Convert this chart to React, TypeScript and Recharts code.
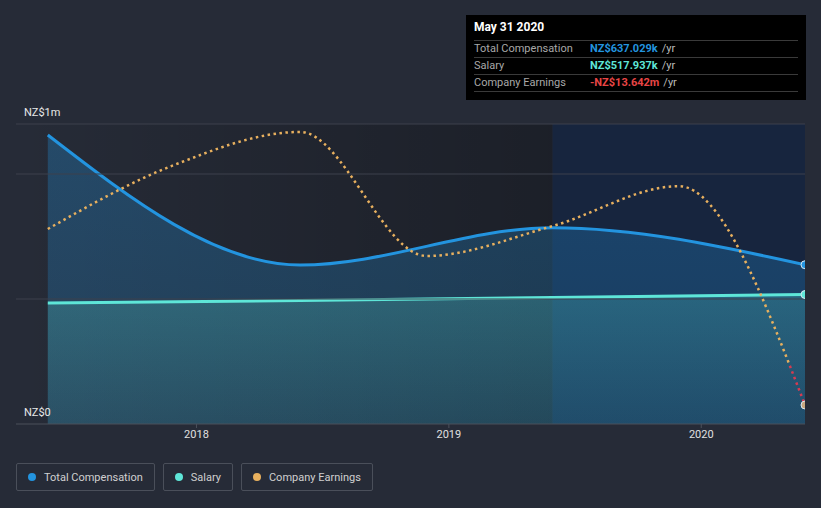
import { ComposedChart, Area, Line, XAxis, YAxis, ReferenceLine, ReferenceArea } from 'recharts';

// dates as decimal years (May 31 / Nov 30)
const dates = [2017.411, 2017.911, 2018.411, 2018.911, 2019.411, 2019.911, 2020.411];
const totalComp = [1156000, null, 636000, null, 785000, null, 637029];
const salary = [484000, null, 494000, null, 506000, null, 517937];
const earnings = [46400000, 68200000, 79500000, 37200000, 47400000, 61000000, -13642000];

const xTicks = [2018, 2019, 2020];
const yTickLabels = [
  { value: 0, label: 'NZ$0' },
  { value: 1200000, label: 'NZ$1m' },
];
const gridValues = [500000, 1000000, 1200000];
const highlightStart = 2019.411;
const xDomain = [2017.285, 2020.411];
const earnDomain = [-20120000, 82200000];

const legendItems = [
  { name: 'Total Compensation', color: '#2394df' },
  { name: 'Salary', color: '#5ee6d8' },
  { name: 'Company Earnings', color: '#e8b05e' },
];

const tooltipRows = [
  { name: 'Total Compensation', value: 'NZ$637.029k', color: '#2394df' },
  { name: 'Salary', value: 'NZ$517.937k', color: '#5ee6d8' },
  { name: 'Company Earnings', value: '-NZ$13.642m', color: '#e84545' },
];

const data = dates.map((d, i) => ({
  date: d,
  total: totalComp[i],
  salary: salary[i],
  earnings: earnings[i],
}));

const last = data.length - 1;
const eMax = Math.max(...earnings);
const eMin = Math.min(...earnings);
const zeroOffset = eMax / (eMax - eMin);

const font = 'Roboto, "Noto Sans", sans-serif';

const endDot = (fill: string) => (props: any) => {
  if (props.index !== last || props.cy == null) return <g key={props.index} />;
  return <circle key={props.index} cx={props.cx} cy={props.cy} r={4} fill={fill} stroke="#d8e6f0" strokeWidth={1} />;
};

const yLabel = (text: string) => (props: any) => {
  const vb = props.viewBox;
  return (
    <text x={vb.x + 8} y={vb.y - 8} fill="#e8e8e8" fontSize={11} fontFamily={font}>
      {text}
    </text>
  );
};

export default function App() {
  return (
    <div style={{ position: 'absolute', left: 0, top: 0, width: 821, height: 508, background: '#262b37', fontFamily: font }}>
      <ComposedChart width={821} height={508} data={data} margin={{ top: 124, right: 16, bottom: 54, left: 16 }}>
        <defs>
          <linearGradient id="fadeBg" x1="0" y1="0" x2="1" y2="0">
            <stop offset="0%" stopColor="#000" stopOpacity={0} />
            <stop offset="100%" stopColor="#000" stopOpacity={0.27} />
          </linearGradient>
          <linearGradient id="totalFill" x1="0" y1="0" x2="0" y2="1">
            <stop offset="0%" stopColor="#2394df" stopOpacity={0.3} />
            <stop offset="100%" stopColor="#2394df" stopOpacity={0.2} />
          </linearGradient>
          <linearGradient id="salaryFill" x1="0" y1="0" x2="0" y2="1">
            <stop offset="0%" stopColor="#5ee6d8" stopOpacity={0.22} />
            <stop offset="100%" stopColor="#5ee6d8" stopOpacity={0.1} />
          </linearGradient>
          <linearGradient id="earnStroke" x1="0" y1="0" x2="0" y2="1">
            <stop offset={zeroOffset} stopColor="#e8b05e" />
            <stop offset={zeroOffset} stopColor="#d63a50" />
          </linearGradient>
        </defs>
        <XAxis
          dataKey="date"
          type="number"
          domain={xDomain}
          allowDataOverflow
          ticks={xTicks}
          tickFormatter={(v: number) => String(v)}
          axisLine={{ stroke: '#4b505b' }}
          tickLine={{ stroke: '#4b505b' }}
          tickSize={4}
          tick={{ fill: '#e0e0e0', fontSize: 11, fontFamily: font }}
        />
        <YAxis yAxisId="comp" hide domain={[0, 1200000]} allowDataOverflow />
        <YAxis yAxisId="earn" hide orientation="right" domain={earnDomain} allowDataOverflow />
        <ReferenceArea yAxisId="comp" x1={xDomain[0]} x2={highlightStart} fill="url(#fadeBg)" fillOpacity={1} zIndex={-100} />
        <ReferenceArea yAxisId="comp" x1={highlightStart} x2={xDomain[1]} fill="#17253e" fillOpacity={1} zIndex={-100} />
        {gridValues.map((v) => (
          <ReferenceLine key={v} yAxisId="comp" y={v} stroke="#3c414c" strokeWidth={1} />
        ))}
        {yTickLabels.map((t) => (
          <ReferenceLine key={'l' + t.value} yAxisId="comp" y={t.value} stroke="none" label={yLabel(t.label)} />
        ))}
        <Area
          yAxisId="comp"
          type="monotone"
          dataKey="total"
          connectNulls
          stroke="#2394df"
          strokeWidth={3}
          fill="url(#totalFill)"
          fillOpacity={1}
          dot={endDot('#2394df')}
          activeDot={false}
          isAnimationActive={false}
        />
        <Area
          yAxisId="comp"
          type="monotone"
          dataKey="salary"
          connectNulls
          stroke="#5ee6d8"
          strokeWidth={3}
          fill="url(#salaryFill)"
          fillOpacity={1}
          dot={endDot('#5ee6d8')}
          activeDot={false}
          isAnimationActive={false}
        />
        <Line
          yAxisId="earn"
          type="monotone"
          dataKey="earnings"
          stroke="url(#earnStroke)"
          strokeWidth={2.5}
          strokeDasharray="2.5 3.5"
          dot={endDot('#c8a880')}
          activeDot={false}
          isAnimationActive={false}
        />
      </ComposedChart>

      <div style={{ position: 'absolute', left: 466, top: 15, width: 340, height: 85, background: '#000', boxSizing: 'border-box', padding: '6px 8px 0 8px' }}>
        <div style={{ color: '#fff', fontWeight: 'bold', fontSize: 12, height: 19, lineHeight: '13px' }}>May 31 2020</div>
        {tooltipRows.map((r) => (
          <div key={r.name} style={{ display: 'flex', fontSize: 11, height: 16, lineHeight: '16px', borderTop: '1px solid #3a3a3a' }}>
            <span style={{ width: 116, color: '#a8a8a8' }}>{r.name}</span>
            <span style={{ color: r.color, fontWeight: 'bold' }}>{r.value}</span>
            <span style={{ color: '#bbb', marginLeft: 4 }}>/yr</span>
          </div>
        ))}
        <div style={{ borderTop: '1px solid #3a3a3a' }} />
      </div>

      <div style={{ position: 'absolute', left: 16, top: 463, display: 'flex', gap: 8 }}>
        {legendItems.map((it) => (
          <div key={it.name} style={{ height: 28, boxSizing: 'border-box', border: '1px solid #4a4f5a', borderRadius: 2, display: 'flex', alignItems: 'center', padding: '0 11px 0 11px', fontSize: 11, color: '#d0d0d0' }}>
            <span style={{ width: 8, height: 8, borderRadius: 4, background: it.color, marginRight: 8 }} />
            {it.name}
          </div>
        ))}
      </div>
    </div>
  );
}
